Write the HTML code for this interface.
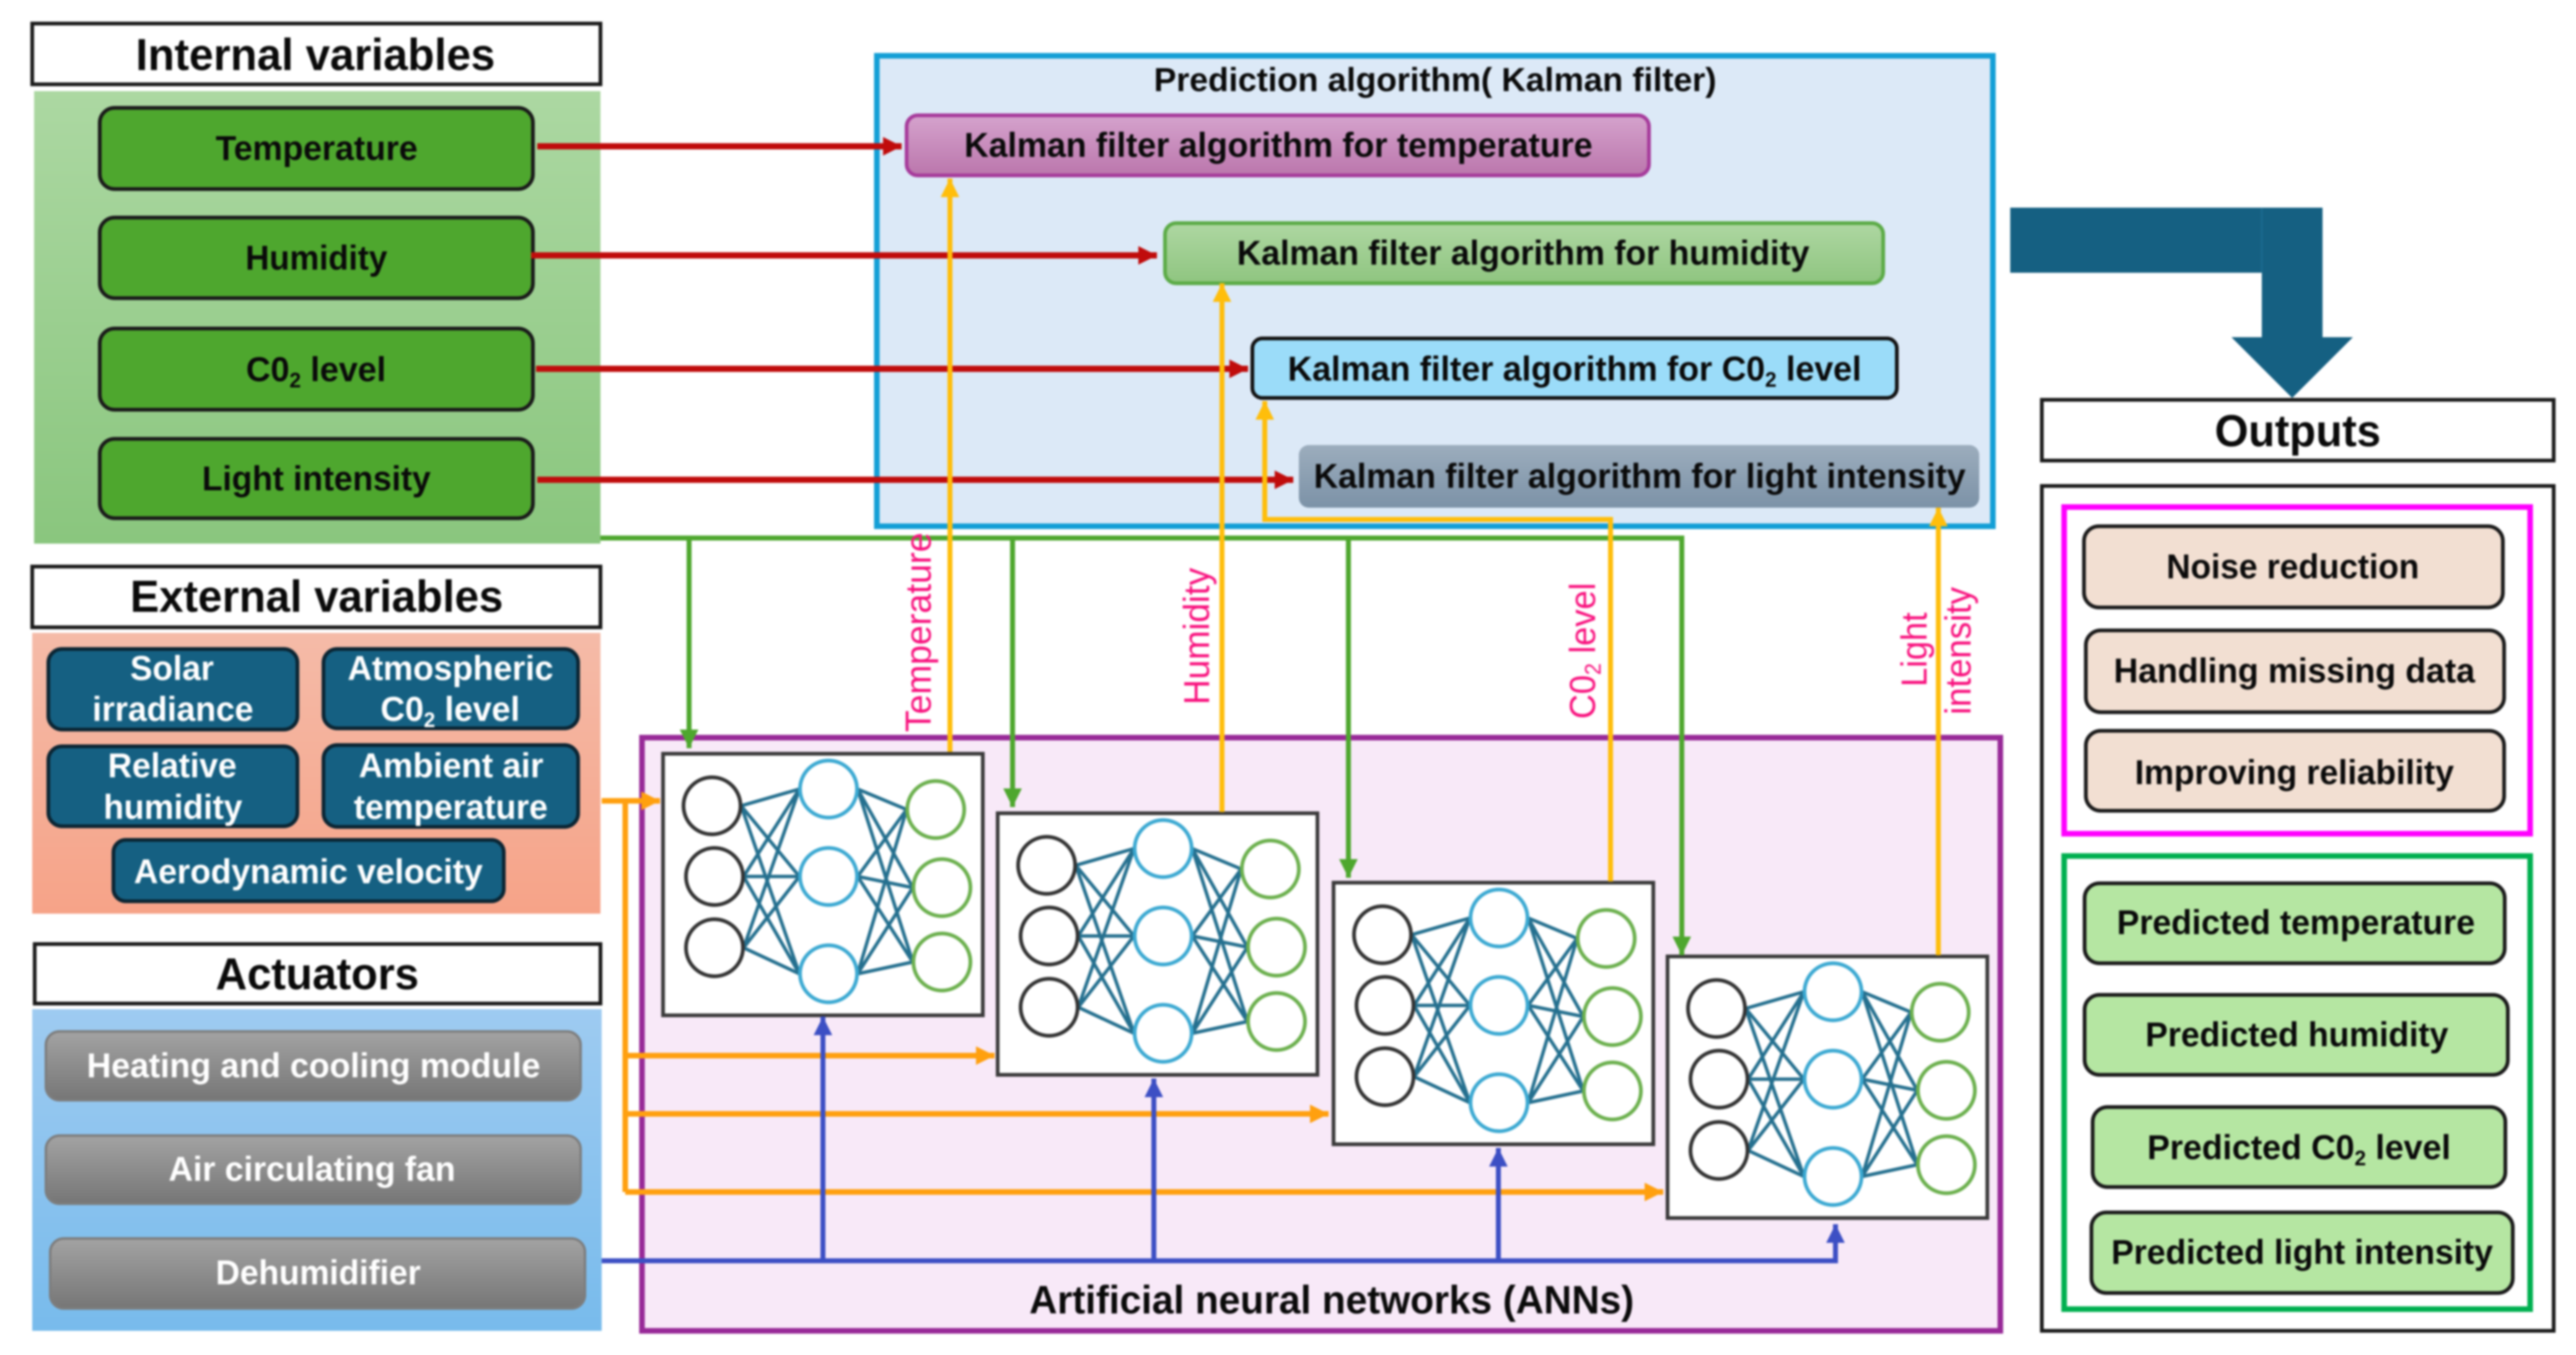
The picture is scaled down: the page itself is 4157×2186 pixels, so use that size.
<!DOCTYPE html>
<html lang="en"><head><meta charset="utf-8"><title>ANN and Kalman filter prediction diagram</title>
<style>
html,body{margin:0;padding:0;background:#fff;width:4157px;height:2186px;overflow:hidden}
svg{display:block;filter:blur(1.6px)}
text{font-family:"Liberation Sans",Arial,sans-serif;fill:#0a0a0a}
.b{font-weight:bold;font-size:56px}
.h{font-weight:bold;font-size:72px}
.w{font-weight:bold;font-size:56px;fill:#fff}
.p{font-size:58px;fill:#f8127e}
.box{stroke:#1a1a1a;stroke-width:6}
line.e{stroke:#25708f;stroke-width:5.5}
</style></head><body>
<svg xmlns="http://www.w3.org/2000/svg" width="4157" height="2186" viewBox="0 0 4157 2186">
<defs>
<linearGradient id="gG" x1="0" y1="0" x2="0" y2="1"><stop offset="0" stop-color="#acd8a2"/><stop offset="1" stop-color="#8ac67e"/></linearGradient>
<linearGradient id="gO" x1="0" y1="0" x2="0" y2="1"><stop offset="0" stop-color="#f5bba8"/><stop offset="1" stop-color="#f6a388"/></linearGradient>
<linearGradient id="gB" x1="0" y1="0" x2="0" y2="1"><stop offset="0" stop-color="#9ecbf1"/><stop offset="1" stop-color="#78bbec"/></linearGradient>
<linearGradient id="gY" x1="0" y1="0" x2="0" y2="1"><stop offset="0" stop-color="#a3a3a3"/><stop offset="1" stop-color="#767676"/></linearGradient>
<linearGradient id="gM" x1="0" y1="0" x2="0" y2="1"><stop offset="0" stop-color="#d5a3cd"/><stop offset="1" stop-color="#bb76ac"/></linearGradient>
<linearGradient id="gL" x1="0" y1="0" x2="0" y2="1"><stop offset="0" stop-color="#aed7a2"/><stop offset="1" stop-color="#8fc580"/></linearGradient>
<linearGradient id="gS" x1="0" y1="0" x2="0" y2="1"><stop offset="0" stop-color="#9cadbd"/><stop offset="1" stop-color="#7c92a7"/></linearGradient>
<marker id="mR" markerUnits="userSpaceOnUse" markerWidth="30" markerHeight="30" viewBox="0 0 30 30" refX="30" refY="15" orient="auto"><path d="M0 0L30 15L0 30z" fill="#c00c0c"/></marker>
<marker id="mA" markerUnits="userSpaceOnUse" markerWidth="30" markerHeight="30" viewBox="0 0 30 30" refX="30" refY="15" orient="auto"><path d="M0 0L30 15L0 30z" fill="#ffa00f"/></marker>
<marker id="mY" markerUnits="userSpaceOnUse" markerWidth="30" markerHeight="30" viewBox="0 0 30 30" refX="30" refY="15" orient="auto"><path d="M0 0L30 15L0 30z" fill="#ffbe0b"/></marker>
<marker id="mG" markerUnits="userSpaceOnUse" markerWidth="30" markerHeight="30" viewBox="0 0 30 30" refX="30" refY="15" orient="auto"><path d="M0 0L30 15L0 30z" fill="#4ea72e"/></marker>
<marker id="mB" markerUnits="userSpaceOnUse" markerWidth="30" markerHeight="30" viewBox="0 0 30 30" refX="30" refY="15" orient="auto"><path d="M0 0L30 15L0 30z" fill="#3c4fc4"/></marker>
<g id="nn">
<rect x="0" y="0" width="516" height="422" fill="#fff" stroke="#3a3a3a" stroke-width="6"/>
<g>
<line class="e" x1="126" y1="84" x2="220" y2="57"/><line class="e" x1="126" y1="84" x2="220" y2="198"/><line class="e" x1="126" y1="84" x2="220" y2="355"/>
<line class="e" x1="130" y1="198" x2="220" y2="57"/><line class="e" x1="130" y1="198" x2="220" y2="198"/><line class="e" x1="130" y1="198" x2="220" y2="355"/>
<line class="e" x1="130" y1="313" x2="220" y2="57"/><line class="e" x1="130" y1="313" x2="220" y2="198"/><line class="e" x1="130" y1="313" x2="220" y2="355"/>
<line class="e" x1="314" y1="57" x2="393" y2="90"/><line class="e" x1="314" y1="57" x2="403" y2="216"/><line class="e" x1="314" y1="57" x2="403" y2="336"/>
<line class="e" x1="314" y1="198" x2="393" y2="90"/><line class="e" x1="314" y1="198" x2="403" y2="216"/><line class="e" x1="314" y1="198" x2="403" y2="336"/>
<line class="e" x1="314" y1="355" x2="393" y2="90"/><line class="e" x1="314" y1="355" x2="403" y2="216"/><line class="e" x1="314" y1="355" x2="403" y2="336"/>
</g>
<g fill="#fff" stroke="#333" stroke-width="6"><circle cx="79" cy="84" r="46"/><circle cx="83" cy="198" r="46"/><circle cx="83" cy="313" r="46"/></g>
<g fill="#fff" stroke="#3ca9d2" stroke-width="6"><circle cx="267" cy="57" r="46"/><circle cx="267" cy="198" r="46"/><circle cx="267" cy="355" r="46"/></g>
<g fill="#fff" stroke="#6cb04e" stroke-width="6"><circle cx="440" cy="90" r="46"/><circle cx="450" cy="216" r="46"/><circle cx="450" cy="336" r="46"/></g>
</g>
</defs>

<!-- left panels -->
<rect x="55" y="147" width="914" height="730" fill="url(#gG)"/>
<rect x="52" y="1021" width="917" height="453" fill="url(#gO)"/>
<rect x="52" y="1628" width="919" height="519" fill="url(#gB)"/>
<g fill="#fff" stroke="#1a1a1a" stroke-width="6">
<rect x="52" y="38" width="917" height="98"/>
<rect x="52" y="914" width="917" height="98"/>
<rect x="56" y="1523" width="913" height="96"/>
</g>
<text class="h" x="219" y="113" textLength="580" lengthAdjust="spacingAndGlyphs">Internal variables</text>
<text class="h" x="210" y="987" textLength="602" lengthAdjust="spacingAndGlyphs">External variables</text>
<text class="h" x="348" y="1596" textLength="328" lengthAdjust="spacingAndGlyphs">Actuators</text>

<g fill="#4ea72e" class="box">
<rect x="161" y="174" width="699" height="131" rx="24"/>
<rect x="161" y="351" width="699" height="130" rx="24"/>
<rect x="161" y="530" width="699" height="131" rx="24"/>
<rect x="161" y="708" width="699" height="128" rx="24"/>
</g>
<text class="b" x="348" y="258" textLength="326" lengthAdjust="spacingAndGlyphs">Temperature</text>
<text class="b" x="396" y="435" textLength="229" lengthAdjust="spacingAndGlyphs">Humidity</text>
<text class="b" x="397" y="615" textLength="226" lengthAdjust="spacingAndGlyphs">C0<tspan font-size="34" dy="10">2</tspan><tspan dy="-10"> level</tspan></text>
<text class="b" x="326" y="791" textLength="369" lengthAdjust="spacingAndGlyphs">Light intensity</text>

<g fill="#156082" stroke="#0b2533" stroke-width="6">
<rect x="78" y="1047" width="402" height="130" rx="22"/>
<rect x="522" y="1047" width="411" height="128" rx="22"/>
<rect x="78" y="1204" width="402" height="129" rx="22"/>
<rect x="522" y="1202" width="411" height="132" rx="22"/>
<rect x="183" y="1355" width="630" height="99" rx="20"/>
</g>
<text class="w" x="210" y="1097" textLength="135" lengthAdjust="spacingAndGlyphs">Solar</text>
<text class="w" x="149" y="1163" textLength="260" lengthAdjust="spacingAndGlyphs">irradiance</text>
<text class="w" x="561" y="1097" textLength="332" lengthAdjust="spacingAndGlyphs">Atmospheric</text>
<text class="w" x="614" y="1163" textLength="225" lengthAdjust="spacingAndGlyphs">C0<tspan font-size="34" dy="10">2</tspan><tspan dy="-10"> level</tspan></text>
<text class="w" x="174" y="1254" textLength="208" lengthAdjust="spacingAndGlyphs">Relative</text>
<text class="w" x="167" y="1321" textLength="224" lengthAdjust="spacingAndGlyphs">humidity</text>
<text class="w" x="579" y="1254" textLength="298" lengthAdjust="spacingAndGlyphs">Ambient air</text>
<text class="w" x="571" y="1321" textLength="313" lengthAdjust="spacingAndGlyphs">temperature</text>
<text class="w" x="216" y="1425" textLength="563" lengthAdjust="spacingAndGlyphs">Aerodynamic velocity</text>

<g fill="url(#gY)" stroke="#7d7d7d" stroke-width="4">
<rect x="74" y="1664" width="863" height="111" rx="22"/>
<rect x="74" y="1832" width="863" height="110" rx="22"/>
<rect x="81" y="1998" width="863" height="113" rx="22"/>
</g>
<text class="w" x="140" y="1738" textLength="732" lengthAdjust="spacingAndGlyphs">Heating and cooling module</text>
<text class="w" x="272" y="1905" textLength="463" lengthAdjust="spacingAndGlyphs">Air circulating fan</text>
<text class="w" x="348" y="2072" textLength="331" lengthAdjust="spacingAndGlyphs">Dehumidifier</text>

<!-- prediction panel -->
<rect x="1415" y="90" width="1801" height="759" fill="#dce9f7" stroke="#149fd6" stroke-width="9"/>
<text x="1862" y="147" font-weight="bold" font-size="54" textLength="908" lengthAdjust="spacingAndGlyphs">Prediction algorithm( Kalman filter)</text>
<rect x="1463" y="186" width="1198" height="97" rx="18" fill="url(#gM)" stroke="#a63a9b" stroke-width="6"/>
<rect x="1880" y="360" width="1159" height="97" rx="18" fill="url(#gL)" stroke="#5bab46" stroke-width="6"/>
<rect x="2021" y="546" width="1040" height="96" rx="16" fill="#9bdcf9" stroke="#111" stroke-width="6"/>
<rect x="2096" y="718" width="1098" height="101" rx="16" fill="url(#gS)"/>
<text class="b" x="1556" y="253" textLength="1014" lengthAdjust="spacingAndGlyphs">Kalman filter algorithm for temperature</text>
<text class="b" x="1996" y="427" textLength="924" lengthAdjust="spacingAndGlyphs">Kalman filter algorithm for humidity</text>
<text class="b" x="2078" y="614" textLength="926" lengthAdjust="spacingAndGlyphs">Kalman filter algorithm for C0<tspan font-size="34" dy="10">2</tspan><tspan dy="-10"> level</tspan></text>
<text class="b" x="2120" y="787" textLength="1052" lengthAdjust="spacingAndGlyphs">Kalman filter algorithm for light intensity</text>

<!-- ANN panel -->
<rect x="1036" y="1190" width="2192" height="957" fill="#f8e9f8" stroke="#982a98" stroke-width="9"/>
<text x="1661" y="2119" font-weight="bold" font-size="64" textLength="976" lengthAdjust="spacingAndGlyphs">Artificial neural networks (ANNs)</text>

<!-- networks -->
<use href="#nn" x="1070" y="1216"/>
<use href="#nn" x="1610" y="1312"/>
<use href="#nn" x="2152" y="1424"/>
<use href="#nn" x="2691" y="1543"/>

<!-- green -->
<g fill="none" stroke="#4ea72e" stroke-width="8">
<line x1="969" y1="868" x2="2714" y2="868"/>
<line x1="1112" y1="868" x2="1112" y2="1207" marker-end="url(#mG)"/>
<line x1="1634" y1="868" x2="1634" y2="1302" marker-end="url(#mG)"/>
<line x1="2176" y1="868" x2="2176" y2="1416" marker-end="url(#mG)"/>
<line x1="2714" y1="864" x2="2714" y2="1541" marker-end="url(#mG)"/>
</g>
<!-- red -->
<g stroke="#c00c0c" stroke-width="10">
<line x1="867" y1="236" x2="1455" y2="236" marker-end="url(#mR)"/>
<line x1="857" y1="412" x2="1867" y2="412" marker-end="url(#mR)"/>
<line x1="865" y1="595" x2="2014" y2="595" marker-end="url(#mR)"/>
<line x1="867" y1="774" x2="2087" y2="774" marker-end="url(#mR)"/>
</g>
<!-- orange -->
<g fill="none" stroke="#ffa00f" stroke-width="9">
<line x1="971" y1="1292" x2="1065" y2="1292" marker-end="url(#mA)"/>
<path d="M1009 1292V1923"/>
<line x1="1009" y1="1703" x2="1605" y2="1703" marker-end="url(#mA)"/>
<line x1="1009" y1="1797" x2="2144" y2="1797" marker-end="url(#mA)"/>
<line x1="1009" y1="1923" x2="2684" y2="1923" marker-end="url(#mA)"/>
</g>
<!-- blue -->
<g fill="none" stroke="#3c4fc4" stroke-width="8">
<path d="M971 2034H2962V1975" marker-end="url(#mB)"/>
<line x1="1328" y1="2034" x2="1328" y2="1640" marker-end="url(#mB)"/>
<line x1="1862" y1="2034" x2="1862" y2="1740" marker-end="url(#mB)"/>
<line x1="2418" y1="2034" x2="2418" y2="1852" marker-end="url(#mB)"/>
</g>
<!-- yellow -->
<g fill="none" stroke="#ffbe0b" stroke-width="8">
<line x1="1533" y1="1213" x2="1533" y2="288" marker-end="url(#mY)"/>
<line x1="1972" y1="1310" x2="1972" y2="457" marker-end="url(#mY)"/>
<path d="M2599 1422V838H2041V647" marker-end="url(#mY)"/>
<line x1="3128" y1="1541" x2="3128" y2="819" marker-end="url(#mY)"/>
</g>

<!-- pink labels -->
<text class="p" transform="translate(1502 1020) rotate(-90)" x="-161" textLength="322" lengthAdjust="spacingAndGlyphs">Temperature</text>
<text class="p" transform="translate(1951 1026) rotate(-90)" x="-111" textLength="221" lengthAdjust="spacingAndGlyphs">Humidity</text>
<text class="p" transform="translate(2574 1050) rotate(-90)" x="-110" textLength="220" lengthAdjust="spacingAndGlyphs">C0<tspan font-size="36" dy="9">2</tspan><tspan dy="-9"> level</tspan></text>
<text class="p" transform="translate(3109 1048) rotate(-90)" x="-60" textLength="120" lengthAdjust="spacingAndGlyphs">Light</text>
<text class="p" transform="translate(3180 1050) rotate(-90)" x="-103" textLength="206" lengthAdjust="spacingAndGlyphs">intensity</text>

<!-- big arrow -->
<path d="M3244 335H3748V544H3797L3699 642L3601 544H3650V440H3244Z" fill="#156082"/>
<line x1="3650" y1="335" x2="3650" y2="440" stroke="#1d6f93" stroke-width="2"/>

<!-- outputs -->
<rect x="3295" y="645" width="826" height="98" fill="#fff" stroke="#1a1a1a" stroke-width="6"/>
<text class="h" x="3574" y="720" textLength="268" lengthAdjust="spacingAndGlyphs">Outputs</text>
<rect x="3295" y="784" width="826" height="1363" fill="#fff" stroke="#1a1a1a" stroke-width="6"/>
<rect x="3331" y="818" width="752" height="527" fill="#fff" stroke="#ff00ff" stroke-width="9"/>
<rect x="3331" y="1381" width="752" height="731" fill="#fff" stroke="#00b050" stroke-width="9"/>
<g fill="#f2dfd2" class="box">
<rect x="3363" y="849" width="676" height="131" rx="24"/>
<rect x="3366" y="1017" width="675" height="132" rx="24"/>
<rect x="3366" y="1179" width="675" height="129" rx="24"/>
</g>
<text class="b" x="3496" y="933" textLength="408" lengthAdjust="spacingAndGlyphs">Noise reduction</text>
<text class="b" x="3411" y="1101" textLength="583" lengthAdjust="spacingAndGlyphs">Handling missing data</text>
<text class="b" x="3445" y="1265" textLength="515" lengthAdjust="spacingAndGlyphs">Improving reliability</text>
<g fill="#b5e6a2" class="box">
<rect x="3364" y="1425" width="678" height="129" rx="24"/>
<rect x="3364" y="1605" width="683" height="129" rx="24"/>
<rect x="3377" y="1786" width="666" height="129" rx="24"/>
<rect x="3375" y="1956" width="680" height="130" rx="24"/>
</g>
<text class="b" x="3416" y="1507" textLength="578" lengthAdjust="spacingAndGlyphs">Predicted temperature</text>
<text class="b" x="3462" y="1688" textLength="489" lengthAdjust="spacingAndGlyphs">Predicted humidity</text>
<text class="b" x="3465" y="1870" textLength="490" lengthAdjust="spacingAndGlyphs">Predicted C0<tspan font-size="34" dy="10">2</tspan><tspan dy="-10"> level</tspan></text>
<text class="b" x="3407" y="2039" textLength="616" lengthAdjust="spacingAndGlyphs">Predicted light intensity</text>
</svg>
</body></html>
